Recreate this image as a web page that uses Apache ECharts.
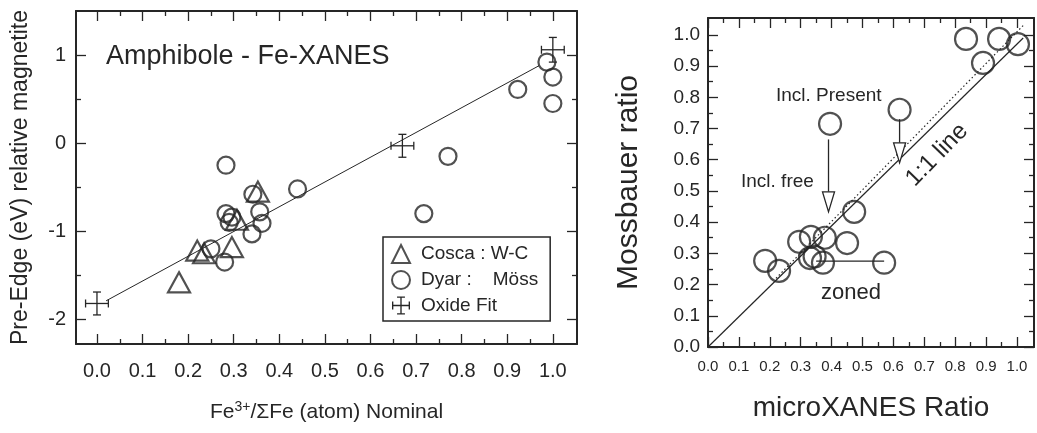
<!DOCTYPE html>
<html>
<head>
<meta charset="utf-8">
<script src="https://cdn.jsdelivr.net/npm/echarts@6/dist/echarts.min.js"></script>
<style>
html, body { margin: 0; padding: 0; background: #fff; }
#main { width: 1037px; height: 433px; }
</style>
</head>
<body>
<div id="main"></div>
<script>
// ---- left panel: Amphibole - Fe-XANES ----
var coscaX = [0.353, 0.307, 0.296, 0.22, 0.235, 0.18];
var coscaY = [-0.55, -0.87, -1.18, -1.22, -1.25, -1.58];
var dyarX = [0.283, 0.342, 0.44, 0.283, 0.296, 0.29, 0.357, 0.362, 0.34, 0.25, 0.28, 0.77, 0.717, 0.923, 0.987, 1.0, 1.0];
var dyarY = [-0.25, -0.58, -0.52, -0.80, -0.84, -0.90, -0.78, -0.91, -1.03, -1.20, -1.35, -0.15, -0.80, 0.61, 0.92, 0.75, 0.45];
var oxideX = [0.0, 0.67, 1.0];
var oxideY = [-1.82, -0.03, 1.06];
var oxideErrX = [0.025, 0.025, 0.025];
var oxideErrY = [0.13, 0.13, 0.14];
var fitX = [0.02, 0.97];
var fitY = [-1.79, 0.88];
var leftMajorX = [0, 0.1, 0.2, 0.3, 0.4, 0.5, 0.6, 0.7, 0.8, 0.9, 1.0];
var leftMinorX = [0.05, 0.15, 0.25, 0.35, 0.45, 0.55, 0.65, 0.75, 0.85, 0.95];
var leftMajorY = [-2, -1, 0, 1];
var leftMinorY = [-1.5, -0.5, 0.5];

// ---- right panel: Mossbauer vs microXANES ----
var mossX = [0.835, 0.942, 1.003, 0.89, 0.62, 0.395, 0.473, 0.333, 0.295, 0.378, 0.45, 0.185, 0.23, 0.33, 0.345, 0.372, 0.57];
var mossY = [0.987, 0.987, 0.97, 0.91, 0.76, 0.715, 0.433, 0.353, 0.337, 0.35, 0.333, 0.276, 0.244, 0.285, 0.29, 0.27, 0.27];
var oneToOneX = [0, 1.02];
var oneToOneY = [0, 0.99];
var dottedX = [0.22, 1.02];
var dottedY = [0.22, 1.03];
var zonedX = [0.35, 0.57];
var zonedY = [0.275, 0.275];
var arrowX = [0.62, 0.39];
var arrowFrom = [0.73, 0.665];
var arrowTo = [0.59, 0.433];
var rightMajor = [0, 0.1, 0.2, 0.3, 0.4, 0.5, 0.6, 0.7, 0.8, 0.9, 1.0];
var rightMinor = [0.05, 0.15, 0.25, 0.35, 0.45, 0.55, 0.65, 0.75, 0.85, 0.95];

var ink = '#262626';
var font = '"Liberation Sans", Arial, sans-serif';

function zip() {
    var arrs = Array.prototype.slice.call(arguments);
    return arrs[0].map(function (v, i) {
        return arrs.map(function (a) { return a[i]; });
    });
}

// four axes per side pair: labelled major, minor, mirrored major, mirrored minor
function frameAxes(gridIndex, pos, mirror, min, max, major, minor, label, name) {
    function ax(p, ticks, len, withLine, withLabel) {
        return {
            type: 'value', gridIndex: gridIndex, position: p, min: min, max: max,
            splitLine: { show: false },
            axisLine: { show: withLine, onZero: false, lineStyle: { color: ink, width: 2 } },
            axisTick: { show: true, inside: true, length: len, customValues: ticks, lineStyle: { color: ink, width: 1.3 } },
            axisLabel: withLabel ? label : { show: false },
            name: withLabel ? name.text : '',
            nameLocation: 'middle',
            nameGap: withLabel ? name.gap : 0,
            nameTextStyle: withLabel ? name.style : {}
        };
    }
    return [
        ax(pos, major, 10, true, true),
        ax(pos, minor, 5, false, false),
        ax(mirror, major, 10, true, false),
        ax(mirror, minor, 5, false, false)
    ];
}

var xAxes = [].concat(
    frameAxes(0, 'bottom', 'top', -0.046, 1.053, leftMajorX, leftMinorX, {
        show: true, customValues: leftMajorX, margin: 17, color: ink, fontSize: 20, fontFamily: font,
        formatter: function (v) { return v.toFixed(1); }
    }, {
        text: '{a|Fe}{s|3+}{a|/ΣFe (atom) Nominal}', gap: 56,
        style: { rich: { a: { fontSize: 21, color: ink, fontFamily: font }, s: { fontSize: 14, color: ink, fontFamily: font, verticalAlign: 'top', padding: [0, 0, 10, 0] } } }
    }),
    frameAxes(1, 'bottom', 'top', 0, 1.055, rightMajor, rightMinor, {
        show: true, customValues: rightMajor, margin: 12, color: ink, fontSize: 15, fontFamily: font,
        formatter: function (v) { return v.toFixed(1); }
    }, {
        text: 'microXANES Ratio', gap: 47,
        style: { fontSize: 28, color: ink, fontFamily: font }
    })
);

var yAxes = [].concat(
    frameAxes(0, 'left', 'right', -2.28, 1.5, leftMajorY, leftMinorY, {
        show: true, customValues: leftMajorY, margin: 10, color: ink, fontSize: 20, fontFamily: font
    }, {
        text: 'Pre-Edge (eV) relative magnetite', gap: 44,
        style: { fontSize: 23, color: ink, fontFamily: font }
    }),
    frameAxes(1, 'left', 'right', 0, 1.054, rightMajor, rightMinor, {
        show: true, customValues: rightMajor, margin: 8, color: ink, fontSize: 19, fontFamily: font,
        formatter: function (v) { return v.toFixed(1); }
    }, {
        text: 'Mossbauer ratio', gap: 64,
        style: { fontSize: 30, color: ink, fontFamily: font }
    })
);

var hollow = { color: 'rgba(0,0,0,0)', borderColor: ink, borderWidth: 2.2 };

function errorBar(params, api) {
    var x = api.value(0), y = api.value(1), ex = api.value(2), ey = api.value(3);
    var l = api.coord([x - ex, y]), r = api.coord([x + ex, y]);
    var t = api.coord([x, y + ey]), b = api.coord([x, y - ey]);
    var cap = 4;
    var st = { stroke: ink, lineWidth: 1.3 };
    return {
        type: 'group',
        children: [
            { type: 'line', shape: { x1: l[0], y1: l[1], x2: r[0], y2: r[1] }, style: st },
            { type: 'line', shape: { x1: t[0], y1: t[1], x2: b[0], y2: b[1] }, style: st },
            { type: 'line', shape: { x1: l[0], y1: l[1] - cap, x2: l[0], y2: l[1] + cap }, style: st },
            { type: 'line', shape: { x1: r[0], y1: r[1] - cap, x2: r[0], y2: r[1] + cap }, style: st },
            { type: 'line', shape: { x1: t[0] - cap, y1: t[1], x2: t[0] + cap, y2: t[1] }, style: st },
            { type: 'line', shape: { x1: b[0] - cap, y1: b[1], x2: b[0] + cap, y2: b[1] }, style: st }
        ]
    };
}

function downArrow(params, api) {
    var x = api.value(0);
    var p0 = api.coord([x, api.value(1)]);
    var p1 = api.coord([x, api.value(2)]);
    var hh = 20, hw = 6;
    return {
        type: 'group',
        children: [
            { type: 'line', shape: { x1: p0[0], y1: p0[1], x2: p1[0], y2: p1[1] - hh }, style: { stroke: ink, lineWidth: 1.3 } },
            { type: 'polygon', shape: { points: [[p1[0] - hw, p1[1] - hh], [p1[0] + hw, p1[1] - hh], [p1[0], p1[1]]] },
              style: { fill: '#fff', stroke: ink, lineWidth: 1.3 } }
        ]
    };
}

var crossIcon = 'path://M0,7.4h16v1.2H0z M7.4,0h1.2v16H7.4z M0,4.5h1.2v7H0z M14.8,4.5h1.2v7h-1.2z M4.5,0h7v1.2h-7z M4.5,14.8h7v1.2h-7z';

var chart = echarts.init(document.getElementById('main'), null, { renderer: 'canvas' });
chart.setOption({
    backgroundColor: '#fff',
    animation: false,
    textStyle: { fontFamily: font },
    grid: [
        { left: 76, top: 11, width: 501, height: 333 },
        { left: 708, top: 18, width: 326, height: 329 }
    ],
    xAxis: xAxes,
    yAxis: yAxes,
    legend: {
        orient: 'vertical', left: 383, top: 237,
        padding: [7, 12, 6, 8], itemGap: 6, itemWidth: 18, itemHeight: 18,
        borderColor: ink, borderWidth: 1.5, borderRadius: 0,
        textStyle: { fontSize: 19, color: ink, fontFamily: font, padding: [0, 0, 0, 6] },
        data: [
            { name: 'Cosca : W-C', icon: 'triangle' },
            { name: 'Dyar :    Möss', icon: 'circle' },
            { name: 'Oxide Fit', icon: crossIcon, itemStyle: { color: ink, borderWidth: 0 } }
        ]
    },
    graphic: [
        { type: 'text', left: 106, top: 43, style: { text: 'Amphibole - Fe-XANES', fontSize: 27, fill: ink, fontFamily: font } },
        { type: 'text', left: 776, top: 86, style: { text: 'Incl. Present', fontSize: 19, fill: ink, fontFamily: font } },
        { type: 'text', left: 741, top: 172, style: { text: 'Incl. free', fontSize: 19, fill: ink, fontFamily: font } },
        { type: 'text', x: 937, y: 155, rotation: 0.8, style: { text: '1:1 line', fontSize: 24, fill: ink, fontFamily: font, align: 'center', verticalAlign: 'middle' } },
        { type: 'text', x: 851, y: 293, style: { text: 'zoned', fontSize: 22, fill: ink, fontFamily: font, align: 'center', verticalAlign: 'middle' } }
    ],
    series: [
        {
            name: 'fit', type: 'line', xAxisIndex: 0, yAxisIndex: 0,
            data: zip(fitX, fitY), symbol: 'none', lineStyle: { color: ink, width: 1 }, z: 1
        },
        {
            name: 'Cosca : W-C', type: 'scatter', xAxisIndex: 0, yAxisIndex: 0,
            data: zip(coscaX, coscaY), symbol: 'triangle', symbolSize: [22, 20], itemStyle: hollow, z: 3
        },
        {
            name: 'Dyar :    Möss', type: 'scatter', xAxisIndex: 0, yAxisIndex: 0,
            data: zip(dyarX, dyarY), symbol: 'circle', symbolSize: 17, itemStyle: hollow, z: 3
        },
        {
            name: 'Oxide Fit', type: 'custom', xAxisIndex: 0, yAxisIndex: 0,
            data: zip(oxideX, oxideY, oxideErrX, oxideErrY), renderItem: errorBar,
            itemStyle: { color: ink }, z: 3
        },
        {
            name: '1:1', type: 'line', xAxisIndex: 4, yAxisIndex: 4,
            data: zip(oneToOneX, oneToOneY), symbol: 'none', lineStyle: { color: ink, width: 1.2 }, z: 1
        },
        {
            name: 'trend', type: 'line', xAxisIndex: 4, yAxisIndex: 4,
            data: zip(dottedX, dottedY), symbol: 'none', lineStyle: { color: ink, width: 1.2, type: [1.5, 2.5] }, z: 1
        },
        {
            name: 'zoned', type: 'line', xAxisIndex: 4, yAxisIndex: 4,
            data: zip(zonedX, zonedY), symbol: 'none', lineStyle: { color: ink, width: 1.3 }, z: 1
        },
        {
            name: 'arrows', type: 'custom', xAxisIndex: 4, yAxisIndex: 4,
            data: zip(arrowX, arrowFrom, arrowTo), renderItem: downArrow, z: 2
        },
        {
            name: 'micro', type: 'scatter', xAxisIndex: 4, yAxisIndex: 4,
            data: zip(mossX, mossY), symbol: 'circle', symbolSize: 22, itemStyle: hollow, z: 3
        }
    ]
});
</script>
</body>
</html>
